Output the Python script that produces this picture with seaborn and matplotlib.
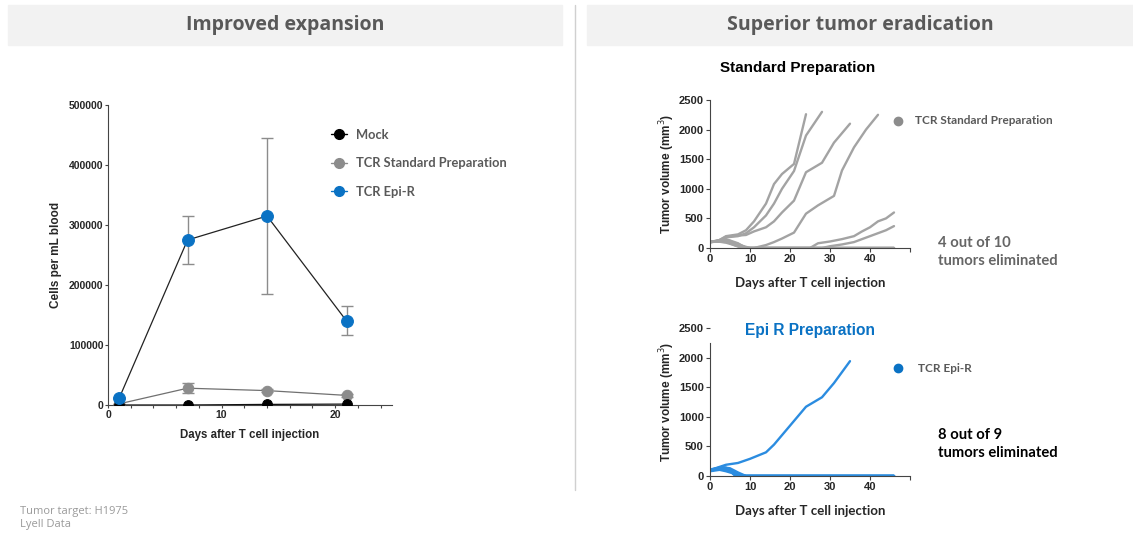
import numpy as np
import pandas as pd
import matplotlib
matplotlib.use("Agg")
import matplotlib.pyplot as plt
import seaborn as sns
from matplotlib.lines import Line2D
from matplotlib.patches import Rectangle

sns.set_style("white")
plt.rcParams["font.family"] = ["Liberation Sans", "DejaVu Sans"]

# --- expansion data (cells per mL blood) ---
exp_days = [1, 7, 14, 21]
mock_vals = [0, 0, 1000, 1500]
std_vals = [2000, 28000, 24000, 16000]
std_err = [0, 8000, 3000, 3000]
epi_vals = [12000, 275000, 315000, 140000]
epi_lo = [12000, 235000, 185000, 117000]
epi_hi = [12000, 315000, 445000, 165000]

# --- tumor volume curves, standard preparation (10 mice) ---
std_curves = [
    ([0, 2, 4, 7, 9, 11, 14, 16, 18, 21, 24],
     [100, 120, 200, 230, 300, 450, 750, 1080, 1250, 1420, 2260]),
    ([0, 2, 4, 7, 9, 11, 14, 16, 18, 21, 24, 28],
     [100, 110, 180, 200, 250, 350, 550, 750, 1000, 1300, 1900, 2300]),
    ([0, 2, 4, 7, 9, 11, 14, 16, 18, 21, 24, 28, 31, 35],
     [100, 120, 190, 210, 220, 280, 350, 450, 600, 800, 1280, 1440, 1780, 2100]),
    ([0, 2, 4, 7, 9, 11, 14, 16, 18, 21, 24, 27, 31, 33, 36, 39, 42],
     [100, 110, 100, 60, 0, 0, 50, 100, 160, 260, 580, 720, 880, 1310, 1700, 2000, 2250]),
    ([0, 2, 4, 7, 9, 25, 27, 30, 33, 36, 38, 40, 42, 44, 46],
     [100, 120, 130, 70, 0, 0, 80, 110, 150, 200, 280, 350, 450, 500, 600]),
    ([0, 2, 4, 7, 10, 28, 30, 33, 36, 38, 40, 42, 44, 46],
     [100, 110, 120, 60, 0, 0, 30, 60, 100, 150, 200, 250, 300, 370]),
    ([0, 2, 4, 7, 9, 46], [100, 130, 150, 80, 0, 0]),
    ([0, 2, 4, 6, 8, 46], [100, 120, 110, 50, 0, 0]),
    ([0, 3, 5, 7, 9, 46], [100, 140, 120, 40, 0, 0]),
    ([0, 2, 4, 7, 10, 46], [100, 110, 90, 30, 0, 0]),
]

# --- tumor volume curves, Epi R preparation (9 mice) ---
epi_curves = [
    ([0, 4, 7, 10, 14, 16, 20, 24, 28, 31, 35],
     [100, 190, 220, 290, 400, 530, 850, 1170, 1330, 1570, 1940]),
    ([0, 3, 5, 7, 9, 46], [100, 150, 130, 60, 0, 0]),
    ([0, 3, 5, 7, 8, 46], [100, 140, 110, 40, 0, 0]),
    ([0, 2, 4, 6, 8, 46], [90, 120, 100, 50, 0, 0]),
    ([0, 3, 5, 7, 9, 46], [80, 110, 100, 30, 0, 0]),
    ([0, 2, 5, 6, 7, 46], [100, 120, 90, 20, 0, 0]),
    ([0, 3, 4, 6, 8, 46], [90, 130, 140, 70, 0, 0]),
    ([0, 2, 4, 7, 9, 46], [100, 110, 80, 20, 0, 0]),
    ([0, 3, 5, 6, 8, 46], [110, 150, 120, 30, 0, 0]),
]

BLUE = "#0a72c4"
LBLUE = "#2b8ce0"
GRAY = "#8c8c8c"
LGRAY = "#a3a3a3"
TXT = "#595959"


def to_long(curves):
    rows = []
    for i, (d, v) in enumerate(curves):
        for x, y in zip(d, v):
            rows.append({"mouse": i, "day": x, "vol": y})
    return pd.DataFrame(rows)


fig = plt.figure(figsize=(11.33, 5.35), dpi=100)

# header boxes and divider
for x0, w, t in [(8, 554, "Improved expansion"), (587, 546, "Superior tumor eradication")]:
    fig.patches.append(Rectangle((x0 / 1133, 1 - 45 / 535), w / 1133, 40 / 535,
                                 transform=fig.transFigure, color="#f2f2f2", zorder=0))
    fig.text((x0 + w / 2) / 1133, 1 - 25 / 535, t, ha="center", va="center",
             fontsize=14, fontweight="bold", color=TXT, family=["Open Sans", "DejaVu Sans"])
fig.add_artist(Line2D([575 / 1133] * 2, [1 - 5 / 535, 1 - 490 / 535],
                      transform=fig.transFigure, color="#d0d0d0", lw=1))

# ---------- left: expansion ----------
ax = fig.add_axes([108 / 1133, 130 / 535, 284 / 1133, 300 / 535])
exp_df = pd.DataFrame({
    "day": exp_days * 3,
    "cells": mock_vals + std_vals + epi_vals,
    "group": ["Mock"] * 4 + ["TCR Standard Preparation"] * 4 + ["TCR Epi-R"] * 4,
})
line_cols = {"Mock": "#111111", "TCR Standard Preparation": "#707070", "TCR Epi-R": "#222222"}
mark_cols = {"Mock": "#000000", "TCR Standard Preparation": GRAY, "TCR Epi-R": BLUE}
mark_size = {"Mock": 7, "TCR Standard Preparation": 7.5, "TCR Epi-R": 8.5}
ax.errorbar(exp_days, std_vals, yerr=std_err, fmt="none", ecolor=GRAY, capsize=4, lw=1, zorder=2)
ax.errorbar(exp_days, epi_vals,
            yerr=[np.array(epi_vals) - np.array(epi_lo), np.array(epi_hi) - np.array(epi_vals)],
            fmt="none", ecolor=GRAY, capsize=4.5, lw=1, zorder=2)
for g in ["TCR Standard Preparation", "Mock", "TCR Epi-R"]:
    sub = exp_df[exp_df["group"] == g]
    sns.lineplot(data=sub, x="day", y="cells", ax=ax, color=line_cols[g], lw=0.9,
                 marker="o", markersize=mark_size[g],
                 markerfacecolor=mark_cols[g], markeredgecolor=mark_cols[g], zorder=3)
ax.set_xlim(0, 25)
ax.set_ylim(0, 500000)
ax.set_xticks([0, 10, 20])
ax.set_xticks(np.arange(2, 25, 2), minor=True)
ax.set_yticks(np.arange(0, 500001, 100000))
ax.tick_params(axis="both", which="major", direction="out", length=2.5, width=0.8,
               labelsize=7.5, color="#444444", bottom=True, left=True, pad=0.8)
ax.tick_params(axis="x", which="minor", direction="out", length=2.5, width=0.8,
               color="#444444", bottom=True)
for lab in ax.get_xticklabels() + ax.get_yticklabels():
    lab.set_fontweight("bold")
sns.despine(ax=ax)
for s in ["left", "bottom"]:
    ax.spines[s].set_color("#444444")
    ax.spines[s].set_linewidth(0.8)
ax.set_xlabel("Days after T cell injection", fontsize=8.3, fontweight="bold", labelpad=7)
ax.set_ylabel("Cells per mL blood", fontsize=8.5, fontweight="bold", labelpad=5)
handles = [Line2D([], [], color=mark_cols[g], lw=1, marker="o", markersize=7)
           for g in ["Mock", "TCR Standard Preparation", "TCR Epi-R"]]
leg = ax.legend(handles, ["Mock", "TCR Standard Preparation", "TCR Epi-R"],
                loc="upper left", bbox_to_anchor=(0.745, 0.96), frameon=False,
                handlelength=1.2, handletextpad=0.7, labelspacing=1.28,
                prop={"family": ["Lato", "DejaVu Sans"], "weight": "bold", "size": 9.3})
for t in leg.get_texts():
    t.set_color(TXT)


# ---------- right: tumor curves ----------
def tumor_axes(bottom_px, curves, color):
    a = fig.add_axes([710 / 1133, (535 - bottom_px) / 535, 200 / 1133, 148 / 535])
    sns.lineplot(data=to_long(curves), x="day", y="vol", units="mouse", estimator=None,
                 ax=a, color=color, lw=1.7)
    a.set_xlim(0, 50)
    a.set_ylim(0, 2500)
    a.set_xticks(np.arange(0, 51, 10))
    a.set_xticklabels(["0", "10", "20", "30", "40", ""])
    a.set_yticks(np.arange(0, 2501, 500))
    a.tick_params(direction="out", length=3, width=0.8, labelsize=8, color="#444444",
                  bottom=True, left=True, pad=1.5)
    for lab in a.get_xticklabels() + a.get_yticklabels():
        lab.set_fontweight("bold")
    sns.despine(ax=a)
    for s in ["left", "bottom"]:
        a.spines[s].set_color("#444444")
        a.spines[s].set_linewidth(0.8)
    a.set_xlabel("Days after T cell injection", fontsize=9.5, fontweight="bold",
                 family=["Lato", "DejaVu Sans"], labelpad=9)
    a.set_ylabel("Tumor volume (mm$^3$)", fontsize=8.5, fontweight="bold", labelpad=1)
    return a


ax1 = tumor_axes(248, std_curves, LGRAY)
ax2 = tumor_axes(476, epi_curves, LBLUE)
ax2.spines["left"].set_bounds(0, 2250)

fig.text(798 / 1133, 1 - 68 / 535, "Standard Preparation", ha="center", va="center",
         fontsize=11, fontweight="bold", color="black")
fig.text(810 / 1133, 1 - 331 / 535, "Epi R Preparation", ha="center", va="center",
         fontsize=11.2, fontweight="bold", color=BLUE)

side_font = ["Lato", "DejaVu Sans"]
fig.add_artist(Line2D([898 / 1133], [1 - 121 / 535], marker="o", markersize=6,
                      color=GRAY, transform=fig.transFigure))
fig.text(915 / 1133, 1 - 121 / 535, "TCR Standard Preparation", va="center",
         fontsize=8.5, fontweight="bold", color=TXT, family=side_font)
fig.add_artist(Line2D([898 / 1133], [1 - 368 / 535], marker="o", markersize=6,
                      color=BLUE, transform=fig.transFigure))
fig.text(918 / 1133, 1 - 368 / 535, "TCR Epi-R", va="center",
         fontsize=8.5, fontweight="bold", color=TXT, family=side_font)

fig.text(938 / 1133, 1 - 252 / 535, "4 out of 10\ntumors eliminated", va="center",
         fontsize=10.6, fontweight="bold", color="#666666", family=side_font, linespacing=1.45)
fig.text(938 / 1133, 1 - 444 / 535, "8 out of 9\ntumors eliminated", va="center",
         fontsize=10.6, fontweight="bold", color="black", family=side_font, linespacing=1.45)

fig.text(20 / 1133, 1 - 518 / 535, "Tumor target: H1975\nLyell Data", va="center",
         fontsize=8, color="#9a9a9a", family=["Open Sans", "DejaVu Sans"], linespacing=1.25)

fig.savefig("out.png", dpi=100)
